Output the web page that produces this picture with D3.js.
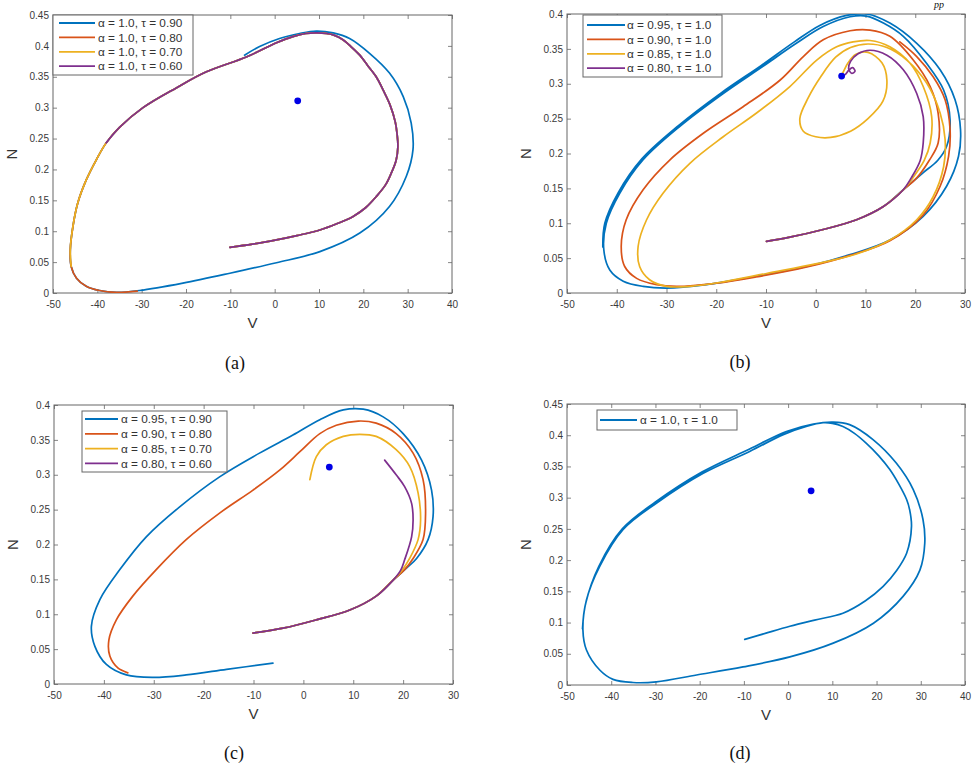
<!DOCTYPE html>
<html>
<head>
<meta charset="utf-8">
<script src="https://cdn.jsdelivr.net/npm/d3@7/dist/d3.min.js"></script>
<style>
  body { margin: 0; background: #fff; }
  svg { display: block; }
</style>
</head>
<body>
<svg id="fig" width="980" height="767"></svg>
<script>
// ---- Data -------------------------------------------------------------
// Line colours: series 1..4 (blue, orange, yellow, purple)
const seriesColors = ["#0072BD", "#D95319", "#EDB120", "#7E2F8E"];

// Axis ticks
const xTicksWide = [-50, -40, -30, -20, -10, 0, 10, 20, 30, 40];
const xTicksNarrow = [-50, -40, -30, -20, -10, 0, 10, 20, 30];
const yTicksTall = [0, 0.05, 0.1, 0.15, 0.2, 0.25, 0.3, 0.35, 0.4, 0.45];
const yTicksShort = [0, 0.05, 0.1, 0.15, 0.2, 0.25, 0.3, 0.35, 0.4];

// Equilibrium point (V, N)
const equilibrium = [5.2, 0.311];

// Legend entries
const legendA = ["α = 1.0, τ = 0.90", "α = 1.0, τ = 0.80", "α = 1.0, τ = 0.70", "α = 1.0, τ = 0.60"];
const legendB = ["α = 0.95, τ = 1.0", "α = 0.90, τ = 1.0", "α = 0.85, τ = 1.0", "α = 0.80, τ = 1.0"];
const legendC = ["α = 0.95, τ = 0.90", "α = 0.90, τ = 0.80", "α = 0.85, τ = 0.70", "α = 0.80, τ = 0.60"];
const legendD = ["α = 1.0, τ = 1.0"];

// Panel (a): trajectories in the (V, N) plane, [V, N] pairs
const aTau090 = [
  [-10.1,0.074],[-5,0.079],[0.4,0.086],[5,0.093],[10.2,0.102],[14,0.112],[17.7,0.124],[20.5,0.138],
  [22.9,0.156],[25,0.175],[26.3,0.194],[27.4,0.215],[27.8,0.237],[27.6,0.258],[27.2,0.277],[26,0.305],
  [24.5,0.328],[22.9,0.35],[21,0.368],[19.2,0.385],[17.2,0.399],[15.4,0.41],[13.5,0.417],[11.7,0.42],
  [9.5,0.421],[7,0.42],[4.1,0.415],[0.4,0.405],[-6.4,0.382],[-15.4,0.358],[-22.2,0.332],[-29.7,0.3],
  [-35,0.268],[-38,0.243],[-40.2,0.216],[-42.5,0.183],[-44.4,0.146],[-45.5,0.108],[-46.1,0.07],
  [-45.9,0.043],[-44.7,0.024],[-42.5,0.011],[-39.5,0.004],[-35.7,0.001],[-30.5,0.004],[-20.7,0.016],
  [-10.1,0.032],[0.4,0.049],[10.2,0.067],[19.2,0.097],[25.9,0.14],[29.7,0.189],[31.2,0.232],[30.8,0.275],
  [29,0.318],[25.9,0.356],[21.4,0.388],[16.9,0.412],[13.2,0.421],[9.4,0.424],[5.6,0.42],[1.1,0.412],
  [-3.4,0.399],[-6.8,0.385]
];
const aTau080 = [
  [-10.1,0.074],[-5,0.079],[0.4,0.086],[5,0.093],[10.2,0.102],[14,0.112],[17.7,0.124],[20.5,0.138],
  [22.9,0.156],[25,0.175],[26.3,0.194],[27.4,0.215],[27.8,0.237],[27.6,0.258],[27.2,0.277],[26,0.305],
  [24.5,0.328],[22.9,0.35],[21,0.368],[19.2,0.385],[17.2,0.399],[15.4,0.41],[13.5,0.417],[11.7,0.42],
  [9.5,0.421],[7,0.42],[4.1,0.415],[0.4,0.405],[-6.4,0.382],[-15.4,0.358],[-22.2,0.332],[-29.7,0.3],
  [-35,0.268],[-38,0.243],[-40.2,0.216],[-42.5,0.183],[-44.4,0.146],[-45.5,0.108],[-46.1,0.07],
  [-45.9,0.043],[-44.7,0.024],[-42.5,0.011],[-39.5,0.004],[-35.7,0.001],[-31,0.003]
];
const aTau070 = [
  [-10.1,0.074],[-5,0.079],[0.4,0.086],[5,0.093],[10.2,0.102],[14,0.112],[17.7,0.124],[20.5,0.138],
  [22.9,0.156],[25,0.175],[26.3,0.194],[27.4,0.215],[27.8,0.237],[27.6,0.258],[27.2,0.277],[26,0.305],
  [24.5,0.328],[22.9,0.35],[21,0.368],[19.2,0.385],[17.2,0.399],[15.4,0.41],[13.5,0.417],[11.7,0.42],
  [9.5,0.421],[7,0.42],[4.1,0.415],[0.4,0.405],[-6.4,0.382],[-15.4,0.358],[-22.2,0.332],[-29.7,0.3],
  [-35,0.268],[-38,0.243],[-40.2,0.216],[-42.5,0.183],[-44.4,0.146],[-45.5,0.108],[-46.1,0.07],
  [-45.9,0.043]
];
const aTau060 = [
  [-10.1,0.074],[-5,0.079],[0.4,0.086],[5,0.093],[10.2,0.102],[14,0.112],[17.7,0.124],[20.5,0.138],
  [22.9,0.156],[25,0.175],[26.3,0.194],[27.4,0.215],[27.8,0.237],[27.6,0.258],[27.2,0.277],[26,0.305],
  [24.5,0.328],[22.9,0.35],[21,0.368],[19.2,0.385],[17.2,0.399],[15.4,0.41],[13.5,0.417],[11.7,0.42],
  [9.5,0.421],[7,0.42],[4.1,0.415],[0.4,0.405],[-6.4,0.382],[-15.4,0.358],[-22.2,0.332],[-29.7,0.3],
  [-35,0.268],[-38,0.243]
];

// Panel (b)
const bAlpha095 = [
  [-9.9,0.074],[-5.2,0.080],[1.5,0.091],[8.2,0.105],[13.6,0.124],[17.6,0.148],[21.5,0.172],[24.5,0.19],
  [26.3,0.21],[27,0.248],[25.7,0.291],[22.3,0.329],[17.6,0.368],[13.6,0.387],[10.2,0.397],[6.9,0.396],
  [1.5,0.382],[-3.9,0.358],[-10.6,0.325],[-18.6,0.286],[-27.3,0.239],[-34.7,0.191],[-39.4,0.143],
  [-42.1,0.1],[-42.6,0.062],[-41.4,0.033],[-38.7,0.017],[-34.7,0.0095],[-30,0.007],[-22,0.012],
  [-12,0.024],[-1.8,0.038],[6.9,0.055],[14.9,0.076],[21.6,0.11],[26.3,0.153],[28.7,0.196],[29.1,0.234],
  [28,0.277],[25,0.32],[20.3,0.358],[14.9,0.387],[10.2,0.4],[6.2,0.398],[0.9,0.384],[-4.3,0.36],
  [-11,0.326],[-19,0.287],[-27.6,0.24],[-35,0.192],[-39.7,0.144],[-42.4,0.1],[-42.8,0.066]
];
const bAlpha090 = [
  [-9.9,0.074],[-5.2,0.080],[1.5,0.091],[8.2,0.105],[13.6,0.124],[17.6,0.148],[20.3,0.165],[22.8,0.19],
  [24.6,0.215],[24.6,0.258],[23,0.296],[19.6,0.334],[14.9,0.368],[10.9,0.377],[6.9,0.376],[1.5,0.363],
  [-2.5,0.339],[-7.2,0.305],[-14.6,0.267],[-22.6,0.229],[-29.3,0.191],[-34.7,0.148],[-38.1,0.105],
  [-39.1,0.067],[-38.4,0.038],[-36,0.021],[-32,0.012],[-28,0.0095],[-20,0.014],[-12,0.023],[-2,0.037],
  [6.9,0.054],[14.9,0.075],[21.6,0.112],[25,0.153],[26.7,0.196],[27,0.234],[26,0.277],[23.6,0.31],
  [20.3,0.339],[16.9,0.36]
];
const bAlpha085 = [
  [-9.9,0.074],[-5.2,0.080],[1.5,0.091],[8.2,0.105],[13.6,0.124],[17.6,0.148],[19.5,0.165],[21.8,0.19],
  [23,0.215],[23.3,0.253],[21.6,0.296],[19,0.329],[14.9,0.353],[10.9,0.362],[7.5,0.36],[4.2,0.353],
  [0.2,0.334],[-5.2,0.296],[-11.9,0.258],[-18.6,0.224],[-25.3,0.186],[-30.7,0.143],[-34,0.105],
  [-35.7,0.067],[-35.4,0.038],[-33.4,0.019],[-30,0.0095],[-25.3,0.0095],[-18.6,0.016],[-9.9,0.028],
  [0.2,0.042],[8.2,0.056],[14.9,0.076],[20.3,0.105],[23.6,0.138],[25.7,0.181],[26,0.22],[25,0.258],
  [22.3,0.301],[18.3,0.334],[14.3,0.352],[10.5,0.357],[7,0.352],[4,0.338],[1,0.31],[-1.5,0.28],
  [-3.2,0.25],[-2.5,0.232],[0,0.224],[3,0.223],[7,0.232],[10.5,0.25],[13.5,0.275],[14.3,0.305],
  [13.3,0.33],[10.5,0.345],[8,0.342],[6.5,0.33],[5.6,0.318],[5.2,0.311]
];
const bAlpha080 = [
  [-9.9,0.074],[-5.2,0.080],[1.5,0.091],[8.2,0.105],[13.6,0.124],[17.6,0.148],[19.2,0.165],[21,0.19],
  [21.6,0.215],[21.6,0.253],[20.3,0.286],[17.6,0.32],[14.3,0.341],[10.9,0.348],[8.5,0.343],[7,0.332],
  [6.6,0.322],[7.2,0.315],[7.9,0.318],[7.4,0.323],[6.6,0.319],[5.9,0.313],[5.2,0.311]
];

// Panel (c)
const cPair095 = [
  [-10.1,0.073],[-4.1,0.08],[2.6,0.092],[9.3,0.106],[14.6,0.126],[18,0.149],[20.5,0.165],[22.7,0.18],
  [25,0.207],[26,0.24],[25.7,0.278],[23.7,0.321],[20,0.359],[16,0.383],[12,0.394],[8,0.393],[3.3,0.379],
  [-2.1,0.357],[-8.8,0.331],[-16.8,0.297],[-24.8,0.254],[-31.5,0.211],[-36.8,0.164],[-40.8,0.121],
  [-42.5,0.083],[-41.8,0.054],[-39.5,0.028],[-35.5,0.013],[-30.1,0.0095],[-23.5,0.013],[-15.4,0.021],
  [-6.1,0.03]
];
const cPair090 = [
  [-10.1,0.073],[-4.1,0.08],[2.6,0.092],[9.3,0.106],[14.6,0.126],[18,0.149],[20.3,0.164],[22,0.18],
  [24,0.207],[24.5,0.245],[24,0.293],[22,0.331],[18.6,0.359],[14.6,0.374],[11,0.377],[6.6,0.371],
  [3.3,0.359],[-0.7,0.333],[-4.7,0.307],[-10.1,0.278],[-16.8,0.245],[-23.5,0.207],[-29.5,0.164],
  [-34.2,0.126],[-37.5,0.092],[-39,0.063],[-38.8,0.04],[-37.2,0.023],[-35.2,0.016]
];
const cPair085 = [
  [-10.1,0.073],[-4.1,0.08],[2.6,0.092],[9.3,0.106],[14.6,0.126],[18,0.149],[19.8,0.163],[21.3,0.18],
  [23,0.207],[23.5,0.235],[23,0.274],[21.3,0.312],[18.6,0.336],[14.6,0.355],[11.3,0.358],[8,0.355],
  [4.6,0.343],[2.6,0.326],[1.3,0.293]
];
const cPair080 = [
  [-10.1,0.073],[-4.1,0.08],[2.6,0.092],[9.3,0.106],[14.6,0.126],[18,0.149],[19.5,0.163],[20.3,0.178],
  [21.7,0.211],[22,0.235],[21.7,0.259],[20.3,0.283],[18.6,0.3],[16.3,0.321]
];

// Panel (d)
const dAlpha1Tau1 = [
  [-9.8,0.073],[-5,0.083],[0.4,0.094],[6,0.104],[12.4,0.115],[17.5,0.135],[21.5,0.158],[24.5,0.183],
  [26.8,0.211],[27.9,0.254],[27.5,0.28],[26.8,0.297],[25,0.322],[23,0.345],[20.5,0.367],[17.7,0.387],
  [15,0.403],[12.4,0.414],[10,0.419],[7.9,0.42],[4.1,0.414],[-1.1,0.401],[-8.7,0.374],[-19.2,0.339],
  [-29.8,0.291],[-37.3,0.249],[-42.6,0.19],[-45.6,0.136],[-46.4,0.088],[-45.6,0.056],[-42.6,0.024],
  [-39.6,0.009],[-35.1,0.004],[-29.8,0.005],[-20.7,0.016],[-10.2,0.029],[0.4,0.045],[10.2,0.067],
  [19.3,0.099],[26,0.142],[29.8,0.184],[30.9,0.227],[30.5,0.265],[28.3,0.313],[24.5,0.355],[19.2,0.393],
  [13.9,0.417],[10.2,0.421],[5.7,0.418],[-0.4,0.406],[-8.7,0.378],[-19.5,0.341],[-30,0.293],
  [-37.5,0.25],[-42.8,0.19],[-45.8,0.13],[-46.5,0.09]
];

// ---- Drawing ----------------------------------------------------------
const svg = d3.select("#fig");
const axisGray = "#666";
const tickFont = "'Liberation Sans', Arial, Helvetica, sans-serif";

const panels = [
  { id: "a", box: { l: 53, r: 452, t: 15, b: 293 }, xDom: [-50, 40], yDom: [0, 0.45],
    xTicks: xTicksWide, yTicks: yTicksTall,
    series: [aTau090, aTau080, aTau070, aTau060], labels: legendA,
    legend: { x: 53, y: 15, w: 140, h: 60, row0: 23, step: 14.4, lx0: 59, lx1: 95, tx: 98 },
    caption: { x: 235, y: 369, text: "(a)" } },
  { id: "b", box: { l: 567, r: 965, t: 14, b: 293 }, xDom: [-50, 30], yDom: [0, 0.4],
    xTicks: xTicksNarrow, yTicks: yTicksShort,
    series: [bAlpha095, bAlpha090, bAlpha085, bAlpha080], labels: legendB,
    legend: { x: 583, y: 15, w: 139, h: 62, row0: 25, step: 14.4, lx0: 587, lx1: 625, tx: 627 },
    caption: { x: 740, y: 368, text: "(b)" } },
  { id: "c", box: { l: 54, r: 453, t: 405, b: 684 }, xDom: [-50, 30], yDom: [0, 0.4],
    xTicks: xTicksNarrow, yTicks: yTicksShort,
    series: [cPair095, cPair090, cPair085, cPair080], labels: legendC,
    legend: { x: 82, y: 411, w: 145, h: 61, row0: 419, step: 14.8, lx0: 85, lx1: 118, tx: 121 },
    caption: { x: 234, y: 759, text: "(c)" } },
  { id: "d", box: { l: 567, r: 965, t: 404, b: 685 }, xDom: [-50, 40], yDom: [0, 0.45],
    xTicks: xTicksWide, yTicks: yTicksTall,
    series: [dAlpha1Tau1], labels: legendD,
    legend: { x: 597, y: 410, w: 140, h: 20, row0: 420, step: 14, lx0: 600, lx1: 637, tx: 640 },
    caption: { x: 740, y: 759, text: "(d)" } }
];

panels.forEach(p => {
  const g = svg.append("g").attr("class", "panel-" + p.id);
  const x = d3.scaleLinear().domain(p.xDom).range([p.box.l, p.box.r]);
  const y = d3.scaleLinear().domain(p.yDom).range([p.box.b, p.box.t]);

  // clip curves to the axes box
  const clipId = "clip-" + p.id;
  g.append("clipPath").attr("id", clipId).append("rect")
    .attr("x", p.box.l).attr("y", p.box.t)
    .attr("width", p.box.r - p.box.l).attr("height", p.box.b - p.box.t);

  // axes (ticks drawn inward on all four sides)
  const styleAxis = sel => {
    sel.select(".domain").remove();
    sel.selectAll(".tick line").attr("stroke", axisGray).attr("stroke-width", 0.8);
    sel.selectAll("text").attr("fill", "#3a3a3a").style("font-family", tickFont).style("font-size", "10px");
  };
  g.append("g").attr("transform", `translate(0,${p.box.b})`)
    .call(d3.axisBottom(x).tickValues(p.xTicks).tickSizeInner(-4).tickSizeOuter(0).tickPadding(8).tickFormat(d => String(d)))
    .call(styleAxis);
  g.append("g").attr("transform", `translate(0,${p.box.t})`)
    .call(d3.axisTop(x).tickValues(p.xTicks).tickSizeInner(-4).tickSizeOuter(0).tickFormat(""))
    .call(styleAxis);
  g.append("g").attr("transform", `translate(${p.box.l},0)`)
    .call(d3.axisLeft(y).tickValues(p.yTicks).tickSizeInner(-4).tickSizeOuter(0).tickPadding(4).tickFormat(d => String(d)))
    .call(styleAxis);
  g.append("g").attr("transform", `translate(${p.box.r},0)`)
    .call(d3.axisRight(y).tickValues(p.yTicks).tickSizeInner(-4).tickSizeOuter(0).tickFormat(""))
    .call(styleAxis);

  g.append("rect")
    .attr("x", p.box.l).attr("y", p.box.t)
    .attr("width", p.box.r - p.box.l).attr("height", p.box.b - p.box.t)
    .attr("fill", "none").attr("stroke", axisGray).attr("stroke-width", 1);

  // trajectories
  const line = d3.line().x(d => x(d[0])).y(d => y(d[1])).curve(d3.curveCatmullRom.alpha(0.5));
  const curves = g.append("g").attr("clip-path", `url(#${clipId})`);
  p.series.forEach((s, i) => {
    curves.append("path").datum(s)
      .attr("d", line)
      .attr("fill", "none")
      .attr("stroke", seriesColors[i])
      .attr("stroke-width", 1.7)
      .attr("stroke-linejoin", "round")
      .attr("stroke-linecap", "round");
  });

  // equilibrium point
  g.append("circle")
    .attr("cx", x(equilibrium[0])).attr("cy", y(equilibrium[1]))
    .attr("r", 3.4).attr("fill", "#0000E6");

  // axis titles
  g.append("text")
    .attr("x", (p.box.l + p.box.r) / 2).attr("y", p.box.b + 35)
    .attr("text-anchor", "middle")
    .style("font-family", tickFont).style("font-size", "15px").attr("fill", "#333")
    .text("V");
  g.append("text")
    .attr("transform", `translate(${p.box.l - 36},${(p.box.t + p.box.b) / 2}) rotate(-90)`)
    .attr("text-anchor", "middle")
    .style("font-family", tickFont).style("font-size", "15px").attr("fill", "#333")
    .text("N");

  // legend
  const L = p.legend;
  const lg = g.append("g");
  lg.append("rect").attr("x", L.x).attr("y", L.y).attr("width", L.w).attr("height", L.h)
    .attr("fill", "#fff").attr("stroke", axisGray).attr("stroke-width", 1);
  p.labels.forEach((lab, i) => {
    const yy = L.row0 + i * L.step;
    lg.append("line").attr("x1", L.lx0).attr("x2", L.lx1).attr("y1", yy).attr("y2", yy)
      .attr("stroke", seriesColors[i]).attr("stroke-width", 1.8);
    lg.append("text").attr("x", L.tx).attr("y", yy).attr("dy", "0.35em")
      .style("font-family", tickFont).style("font-size", "11.8px").attr("fill", "#333")
      .text(lab);
  });

  // sub-figure caption
  g.append("text")
    .attr("x", p.caption.x).attr("y", p.caption.y)
    .attr("text-anchor", "middle")
    .style("font-family", "'Liberation Serif', 'Times New Roman', serif").style("font-size", "18px")
    .attr("fill", "#111")
    .text(p.caption.text);
});

// running header fragment at the page top
svg.append("text")
  .attr("x", 934).attr("y", 8)
  .style("font-family", "'Liberation Serif', 'Times New Roman', serif")
  .style("font-size", "10px").style("font-style", "italic")
  .attr("fill", "#111")
  .text("pp");
</script>
</body>
</html>
